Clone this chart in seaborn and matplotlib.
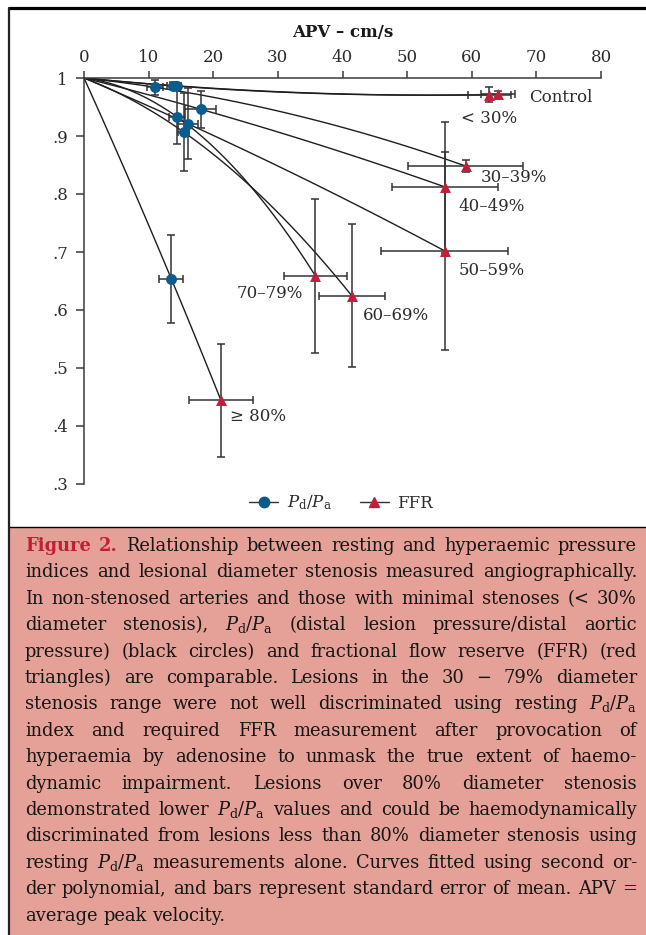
import numpy as np
import pandas as pd
import matplotlib
matplotlib.use("Agg")
import matplotlib.pyplot as plt
from matplotlib.lines import Line2D
from matplotlib.patches import Rectangle
from matplotlib.ticker import FuncFormatter
import seaborn as sns

# ---------------- data ----------------
groups = ["Control", "< 30%", "30–39%", "40–49%", "50–59%", "60–69%", "70–79%", "≥ 80%"]
pdpa_apv = [14.4, 13.7, 11.0, 18.1, 16.1, 15.4, 14.4, 13.5]
pdpa_val = [0.986, 0.987, 0.984, 0.946, 0.921, 0.907, 0.933, 0.654]
pdpa_apv_err = [0.6, 0.8, 1.2, 2.4, 1.6, 0.8, 1.2, 1.85]
pdpa_val_err = [0.005, 0.006, 0.013, 0.032, 0.061, 0.067, 0.047, 0.076]
ffr_apv = [64.1, 62.7, 59.1, 55.9, 55.8, 41.4, 35.8, 21.2]
ffr_val = [0.972, 0.971, 0.848, 0.812, 0.702, 0.625, 0.659, 0.444]
ffr_apv_err = [2.6, 3.3, 8.9, 8.2, 9.8, 5.1, 4.85, 5.0]
ffr_val_err = [0.005, 0.013, 0.010, 0.113, 0.171, 0.124, 0.133, 0.097]
x_ticks = [0, 10, 20, 30, 40, 50, 60, 70, 80]
y_ticks = [0.3, 0.4, 0.5, 0.6, 0.7, 0.8, 0.9, 1.0]
x_title = "APV – cm/s"
legend_labels = [r"$P_{\mathrm{d}}/P_{\mathrm{a}}$", "FFR"]

# label anchor (left, center) in data units
label_pos = [(68.9, 0.967), (58.4, 0.931), (61.4, 0.829), (57.9, 0.778),
             (57.9, 0.668), (43.1, 0.591), (23.6, 0.629), (22.6, 0.417)]

caption_lines = [
    "Figure 2. Relationship between resting and hyperaemic pressure",
    "indices and lesional diameter stenosis measured angiographically.",
    "In non-stenosed arteries and those with minimal stenoses (< 30%",
    r"diameter stenosis), $P_{\mathrm{d}}/P_{\mathrm{a}}$ (distal lesion pressure/distal aortic",
    "pressure) (black circles) and fractional flow reserve (FFR) (red",
    "triangles) are comparable. Lesions in the 30 − 79% diameter",
    r"stenosis range were not well discriminated using resting $P_{\mathrm{d}}/P_{\mathrm{a}}$",
    "index and required FFR measurement after provocation of",
    "hyperaemia by adenosine to unmask the true extent of haemo-",
    "dynamic impairment. Lesions over 80% diameter stenosis",
    r"demonstrated lower $P_{\mathrm{d}}/P_{\mathrm{a}}$ values and could be haemodynamically",
    "discriminated from lesions less than 80% diameter stenosis using",
    r"resting $P_{\mathrm{d}}/P_{\mathrm{a}}$ measurements alone. Curves fitted using second or-",
    "der polynomial, and bars represent standard error of mean. APV =",
    "average peak velocity.",
]

# ---------------- style ----------------
sns.set_theme(style="white")
plt.rcParams["font.family"] = ["DejaVu Serif", "Liberation Serif"]
plt.rcParams["mathtext.fontset"] = "dejavuserif"

W, H = 646, 935
BLUE = "#0b5b8e"
RED = "#c21d3b"
DARK = "#2b2b2b"
SALMON = "#e5a197"
FS = 12

fig = plt.figure(figsize=(W / 100, H / 100), dpi=100)
fig.patch.set_facecolor("white")

ax = fig.add_axes([84 / W, 1 - 484 / H, 517 / W, 406 / H])
ax.set_facecolor("white")

# fitted second-order curves through (0,1), Pd/Pa point, FFR point
rows = []
for g, xp, yp, xf, yf in zip(groups, pdpa_apv, pdpa_val, ffr_apv, ffr_val):
    coef = np.polyfit([0.0, xp, xf], [1.0, yp, yf], 2)
    xs = np.linspace(0, xf, 120)
    for xv, yv in zip(xs, np.polyval(coef, xs)):
        rows.append({"group": g, "apv": xv, "value": yv})
curve_df = pd.DataFrame(rows)
sns.lineplot(data=curve_df, x="apv", y="value", units="group", estimator=None,
             sort=False, color="#1e1e1e", linewidth=1.0, ax=ax, legend=False)

# error bars
eb_kw = dict(fmt="none", ecolor="#333333", elinewidth=1.1, capsize=2.8, capthick=1.1, zorder=3)
ax.errorbar(pdpa_apv, pdpa_val, xerr=pdpa_apv_err, yerr=pdpa_val_err, **eb_kw)
ax.errorbar(ffr_apv, ffr_val, xerr=ffr_apv_err, yerr=ffr_val_err, **eb_kw)

# markers
pd_df = pd.DataFrame({"apv": pdpa_apv, "value": pdpa_val})
ffr_df = pd.DataFrame({"apv": ffr_apv, "value": ffr_val})
sns.scatterplot(data=pd_df, x="apv", y="value", marker="o", s=62, color=BLUE,
                edgecolor=BLUE, linewidth=0, ax=ax, zorder=4)
sns.scatterplot(data=ffr_df, x="apv", y="value", marker="^", s=62, color=RED,
                edgecolor=RED, linewidth=0, ax=ax, zorder=4)

# group labels
for g, (lx, ly) in zip(groups, label_pos):
    ax.text(lx, ly, g, fontsize=FS, color=DARK, ha="left", va="center")

# axes
ax.set_xlim(0, 80)
ax.set_ylim(0.3, 1.0)
ax.set_xticks(x_ticks)
ax.set_yticks(y_ticks)
ax.xaxis.tick_top()
ax.xaxis.set_label_position("top")
ax.set_xlabel(x_title, fontsize=FS, fontweight="bold", color="#1a1a1a", labelpad=8)
ax.set_ylabel("")
ax.yaxis.set_major_formatter(FuncFormatter(
    lambda v, p: "1" if abs(v - 1) < 1e-9 else f"{v:.1f}".lstrip("0")))
for s in ["bottom", "right"]:
    ax.spines[s].set_visible(False)
for s in ["top", "left"]:
    ax.spines[s].set_color("#3a3a3a")
    ax.spines[s].set_linewidth(1.1)
ax.tick_params(axis="x", which="both", top=True, bottom=False, direction="out",
               length=5, width=1.1, color="#3a3a3a", labelsize=FS, labelcolor=DARK, pad=4)
ax.tick_params(axis="y", which="both", left=True, direction="out",
               length=5.5, width=1.1, color="#3a3a3a", labelsize=FS, labelcolor=DARK, pad=6)
ax.grid(False)

# legend
handles = [
    Line2D([], [], color="#333333", lw=1.0, marker="o", markersize=7.5,
           markerfacecolor=BLUE, markeredgecolor=BLUE),
    Line2D([], [], color="#333333", lw=1.0, marker="^", markersize=7.5,
           markerfacecolor=RED, markeredgecolor=RED),
]
fig.legend(handles, legend_labels, loc="center", bbox_to_anchor=(341 / W, 1 - 503 / H),
           ncol=2, frameon=False, fontsize=FS, handlelength=1.75, handletextpad=0.5,
           columnspacing=1.7, labelcolor=DARK)

# frame lines
fig.add_artist(Line2D([8.5 / W, 1], [1 - 7.5 / H] * 2, lw=2.3, color="black",
                      transform=fig.transFigure))
fig.add_artist(Rectangle((9 / W, 0), 1, (H - 527) / H, facecolor=SALMON,
                         edgecolor="none", transform=fig.transFigure, zorder=0))
fig.add_artist(Line2D([9 / W, 1], [1 - 527 / H] * 2, lw=1.0, color="black",
                      transform=fig.transFigure))
fig.add_artist(Line2D([9 / W] * 2, [0, 1 - 7.5 / H], lw=1.6, color="#222222",
                      transform=fig.transFigure))

# caption (justified)
renderer = fig.canvas.get_renderer()
x0, x1 = 25, 637
y_base0, dy = 551, 26.4


def measure(fs):
    t1 = fig.text(0, 0, "a a", fontsize=fs)
    t2 = fig.text(0, 0, "aa", fontsize=fs)
    sw = t1.get_window_extent(renderer).width - t2.get_window_extent(renderer).width
    t1.remove(); t2.remove()
    maxnat = 0
    for i, line in enumerate(caption_lines[:-1]):
        words = line.split(" ")
        ws = []
        for j, w in enumerate(words):
            red = (i == 0 and j < 2)
            t = fig.text(0, 0, w, fontsize=fs, fontweight="bold" if red else "normal")
            ws.append(t.get_window_extent(renderer).width)
            t.remove()
        maxnat = max(maxnat, sum(ws) + sw * (len(words) - 1))
    return sw, maxnat


fs_cap = 14.0
sw, maxnat = measure(fs_cap)
fs_cap = fs_cap * (x1 - x0 - 2) / maxnat
space_w, _ = measure(fs_cap)

for i, line in enumerate(caption_lines):
    words = line.split(" ")
    texts = []
    for j, w in enumerate(words):
        red = (i == 0 and j < 2)
        t = fig.text(0, 0, w, fontsize=fs_cap, color=RED if red else "#161616",
                     fontweight="bold" if red else "normal", ha="left", va="baseline")
        texts.append(t)
    widths = [t.get_window_extent(renderer).width for t in texts]
    if i < len(caption_lines) - 1 and len(words) > 1:
        gap = (x1 - x0 - sum(widths)) / (len(words) - 1)
    else:
        gap = space_w
    x = x0
    yb = y_base0 + i * dy
    for t, wdt in zip(texts, widths):
        t.set_position((x / W, 1 - yb / H))
        x += wdt + gap

fig.savefig("out.png", dpi=100)
